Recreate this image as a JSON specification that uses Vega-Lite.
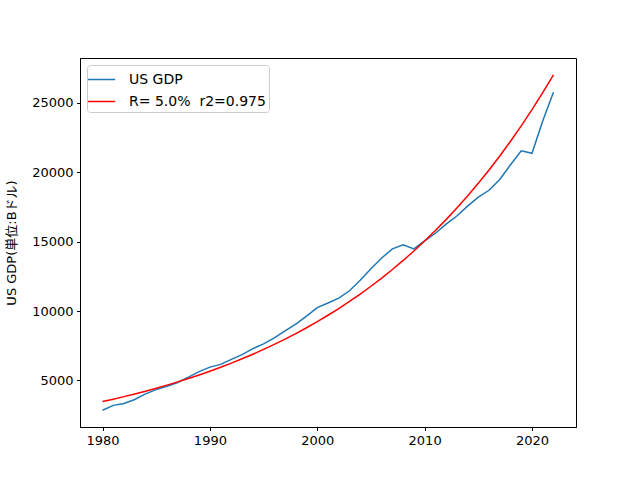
{
  "$schema": "https://vega.github.io/schema/vega-lite/v6.json",
  "width": 496,
  "height": 369,
  "autosize": {"type": "none"},
  "padding": {"left": 80, "top": 58, "right": 64, "bottom": 53},
  "background": "white",
  "config": {
    "font": "DejaVu Sans",
    "view": {"stroke": "black", "strokeWidth": 1},
    "axis": {
      "grid": false,
      "domainColor": "black",
      "tickColor": "black",
      "tickSize": 3.5,
      "labelColor": "black",
      "labelFontSize": 13,
      "labelPadding": 3.5,
      "labelFont": "DejaVu Sans",
      "titleFont": "DejaVu Sans, Noto Sans CJK JP",
      "titleFontWeight": "normal",
      "titleFontSize": 13,
      "titleColor": "black"
    }
  },
  "data": {
    "values": [
      {"year": 1980, "gdp": 2857, "fit": 3480},
      {"year": 1981, "gdp": 3207, "fit": 3654},
      {"year": 1982, "gdp": 3343, "fit": 3837},
      {"year": 1983, "gdp": 3634, "fit": 4029},
      {"year": 1984, "gdp": 4037, "fit": 4230},
      {"year": 1985, "gdp": 4339, "fit": 4441},
      {"year": 1986, "gdp": 4579, "fit": 4663},
      {"year": 1987, "gdp": 4855, "fit": 4897},
      {"year": 1988, "gdp": 5236, "fit": 5142},
      {"year": 1989, "gdp": 5641, "fit": 5399},
      {"year": 1990, "gdp": 5963, "fit": 5669},
      {"year": 1991, "gdp": 6158, "fit": 5952},
      {"year": 1992, "gdp": 6520, "fit": 6250},
      {"year": 1993, "gdp": 6858, "fit": 6562},
      {"year": 1994, "gdp": 7287, "fit": 6890},
      {"year": 1995, "gdp": 7639, "fit": 7235},
      {"year": 1996, "gdp": 8073, "fit": 7596},
      {"year": 1997, "gdp": 8577, "fit": 7976},
      {"year": 1998, "gdp": 9062, "fit": 8375},
      {"year": 1999, "gdp": 9631, "fit": 8794},
      {"year": 2000, "gdp": 10251, "fit": 9233},
      {"year": 2001, "gdp": 10582, "fit": 9695},
      {"year": 2002, "gdp": 10929, "fit": 10180},
      {"year": 2003, "gdp": 11457, "fit": 10689},
      {"year": 2004, "gdp": 12217, "fit": 11223},
      {"year": 2005, "gdp": 13039, "fit": 11784},
      {"year": 2006, "gdp": 13816, "fit": 12374},
      {"year": 2007, "gdp": 14474, "fit": 12992},
      {"year": 2008, "gdp": 14770, "fit": 13642},
      {"year": 2009, "gdp": 14478, "fit": 14324},
      {"year": 2010, "gdp": 15049, "fit": 15040},
      {"year": 2011, "gdp": 15600, "fit": 15792},
      {"year": 2012, "gdp": 16254, "fit": 16582},
      {"year": 2013, "gdp": 16843, "fit": 17411},
      {"year": 2014, "gdp": 17551, "fit": 18282},
      {"year": 2015, "gdp": 18206, "fit": 19196},
      {"year": 2016, "gdp": 18695, "fit": 20155},
      {"year": 2017, "gdp": 19477, "fit": 21163},
      {"year": 2018, "gdp": 20533, "fit": 22221},
      {"year": 2019, "gdp": 21540, "fit": 23333},
      {"year": 2020, "gdp": 21354, "fit": 24499},
      {"year": 2021, "gdp": 23681, "fit": 25724},
      {"year": 2022, "gdp": 25744, "fit": 27010}
    ]
  },
  "transform": [
    {"fold": ["gdp", "fit"], "as": ["key", "value"]},
    {"calculate": "datum.key === 'gdp' ? 'US GDP' : 'R= 5.0%\u00a0 r2=0.975'", "as": "series"}
  ],
  "mark": {"type": "line", "strokeWidth": 1.5},
  "encoding": {
    "x": {
      "field": "year",
      "type": "quantitative",
      "scale": {"domain": [1977.9, 2024.1], "nice": false, "zero": false},
      "axis": {"values": [1980, 1990, 2000, 2010, 2020], "format": "d", "title": null}
    },
    "y": {
      "field": "value",
      "type": "quantitative",
      "scale": {"domain": [1650, 28218], "nice": false, "zero": false},
      "axis": {
        "values": [5000, 10000, 15000, 20000, 25000],
        "format": "d",
        "title": "US GDP(単位:Bドル)",
        "titlePadding": 13
      }
    },
    "color": {
      "field": "series",
      "type": "nominal",
      "scale": {
        "domain": ["US GDP", "R= 5.0%\u00a0 r2=0.975"],
        "range": ["#1f77b4", "#ff0000"]
      },
      "legend": {
        "title": null,
        "orient": "top-left",
        "offset": 7,
        "symbolType": "M-1.3,0H1.3",
        "symbolSize": 441,
        "symbolStrokeWidth": 1.5,
        "labelFontSize": 14,
        "labelColor": "black",
        "labelFont": "DejaVu Sans",
        "strokeColor": "#cccccc",
        "fillColor": "white",
        "cornerRadius": 3,
        "padding": 3,
        "rowPadding": 3,
        "labelOffset": 16
      }
    }
  }
}
